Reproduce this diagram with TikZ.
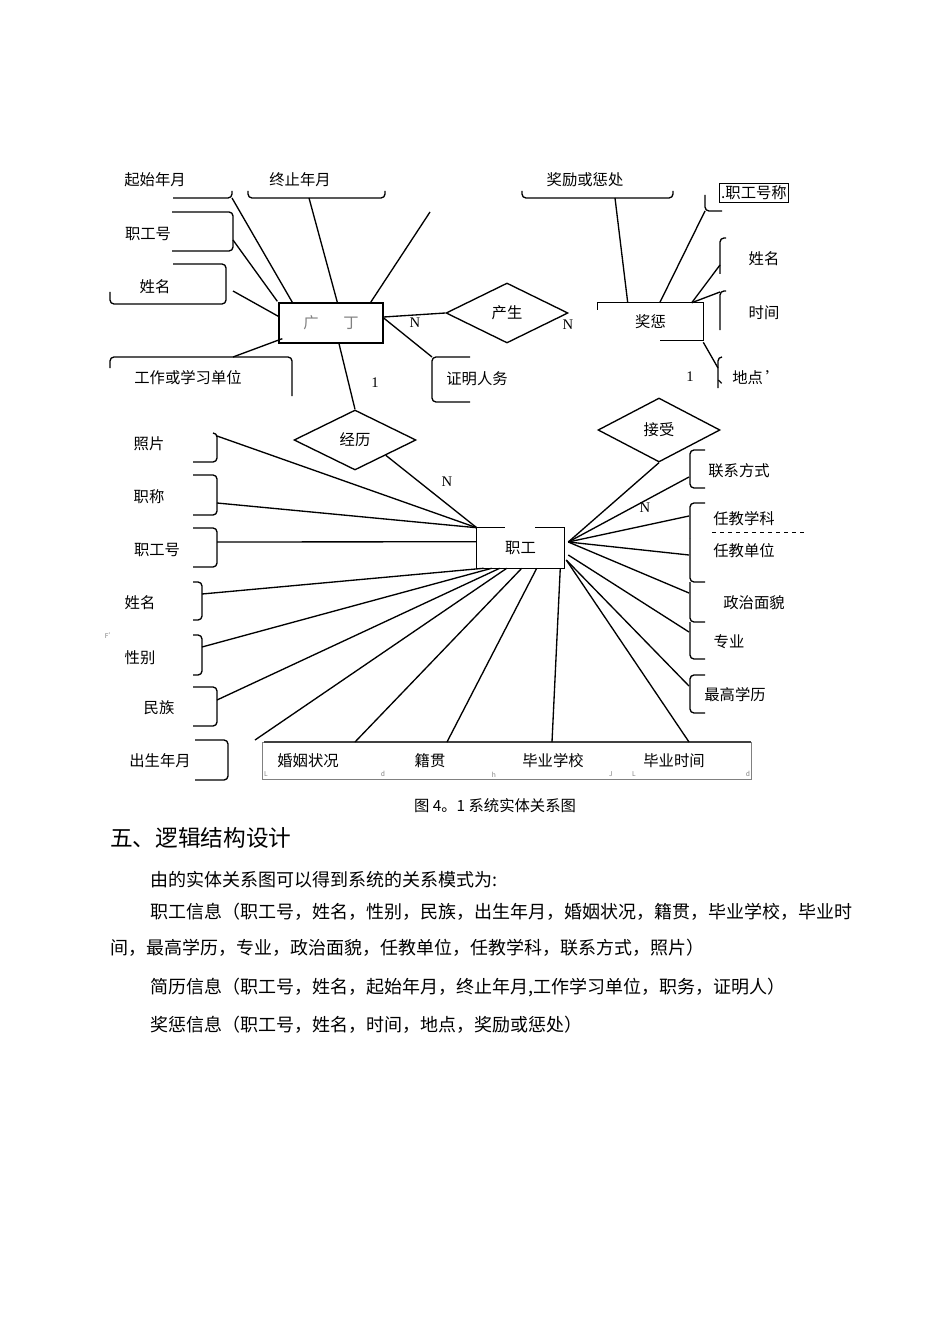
\documentclass[tikz,border=0pt]{standalone}
\usepackage{fontspec}
\setmainfont{Noto Sans CJK SC}
\newfontfamily\numfont{Liberation Serif}
\usetikzlibrary{shapes.geometric}
\newcommand{\lblsize}{\fontsize{11.5pt}{13pt}\selectfont}
\newcommand{\bodysize}{\fontsize{13.5pt}{16pt}\selectfont}

\begin{document}
\begin{tikzpicture}[x=0.75pt,y=-0.75pt,
    attr/.style={inner sep=0pt,font=\lblsize},
    ent/.style={rectangle,inner sep=0pt,font=\lblsize},
    rel/.style={diamond,draw,inner sep=0pt,line width=1pt,minimum width=91.5pt,
                minimum height=45pt,font=\lblsize},
    conn/.style={line width=1pt},
    brk/.style={line width=1pt,rounded corners=3pt},
    card/.style={inner sep=0pt,font=\numfont\fontsize{11pt}{13pt}\selectfont},
    speck/.style={inner sep=0pt,font=\fontsize{5pt}{6pt}\selectfont,text=gray},
    para/.style={anchor=west,inner sep=0pt,font=\bodysize}
]
    \fill[white] (0,0) rectangle (950,1344);
    \useasboundingbox (0,0) rectangle (950,1344);

    % entities and relationships
    \node[ent,draw,line width=1pt,minimum width=78pt,minimum height=30pt] (jianli) at (331,323)
        {\textcolor{gray}{广\hspace{1.6em}丁}};
    \node[ent,minimum width=78.75pt,minimum height=27.75pt] (jiangcheng) at (650.5,321.5) {奖惩};
    \draw[conn] (jiangcheng.north west) ++(0,7) -- (jiangcheng.north west) -- (jiangcheng.north east)
        -- (jiangcheng.south east) -- ++(-43,0);
    \node[ent,minimum width=65.25pt,minimum height=30pt] (zhigong) at (520.5,548) {职工};
    \draw[conn] (zhigong.north west) ++(28,0) -- (zhigong.north west) -- (zhigong.south west)
        -- (zhigong.south east) -- (zhigong.north east) -- ++(-29,0);
    \node[rel] (chansheng) at (507,313) {产生};
    \node[rel] (jingli) at (355,440) {经历};
    \node[rel,minimum height=48pt] (jieshou) at (659,430) {接受};

    % attributes of the resume entity
    \node[attr] (qsny) at (155,180) {起始年月};
    \draw[brk] (173,198) -- (232,198) -- (232,191);
    \coordinate (qsny-b) at (232,198);
    \node[attr] (zzny) at (300,180) {终止年月};
    \draw[brk] (248,191) -- (248,198) -- (385,198) -- (385,191);
    \coordinate (zzny-b) at (309,198);
    \node[attr] (zgh1) at (148,234) {职工号};
    \draw[brk] (172,212) -- (233,212) -- (233,251) -- (172,251);
    \coordinate (zgh1-b) at (233,240);
    \node[attr] (xm1) at (155,287) {姓名};
    \draw[brk] (173,264) -- (226,264) -- (226,304) -- (110,304) -- (110,292);
    \coordinate (xm1-b) at (233,291);
    \node[attr] (gzdw) at (188,378) {工作或学习单位};
    \draw[brk] (110,368) -- (110,357) -- (292,357) -- (292,396);
    \coordinate (gzdw-b) at (233,357);
    \node[attr] (zmr) at (477,379) {证明人务};
    \draw[brk] (470,357) -- (432,357) -- (432,402) -- (470,402);
    \coordinate (zmr-b) at (432,357);
    \coordinate (jl-free) at (430,212);

    \draw[conn] (qsny-b) -- ([shift={(14,0)}]jianli.north west);
    \draw[conn] (zzny-b) -- ([shift={(59,0)}]jianli.north west);
    \draw[conn] (zgh1-b) -- ([shift={(-1,-1)}]jianli.north west);
    \draw[conn] (xm1-b) -- ([shift={(0,14)}]jianli.north west);
    \draw[conn] (gzdw-b) -- ([shift={(4,-5)}]jianli.south west);
    \draw[conn] ([shift={(-13,0)}]jianli.north east) -- (jl-free);
    \draw[conn] ([shift={(0,-6)}]jianli.east) -- (chansheng.west);
    \draw[conn] ([shift={(0,-5)}]jianli.east) -- (zmr-b);
    \draw[conn] ([shift={(8,0)}]jianli.south) -- (jingli.north);

    % attributes of the reward entity
    \node[attr] (jlcf) at (585,180) {奖励或惩处};
    \draw[brk] (522,191) -- (522,198) -- (673,198) -- (673,191);
    \coordinate (jlcf-b) at (615,198);
    \node[attr,draw,line width=0.5pt,inner sep=1.5pt,minimum height=14pt] (zghc) at (754,193) {.职工号称};
    \draw[brk] (705,195) -- (705,211) -- (722,211);
    \coordinate (zghc-b) at (705,211);
    \node[attr] (xm2) at (764,259) {姓名};
    \draw[brk] (726,238) -- (720,238) -- (720,274);
    \coordinate (xm2-b) at (720,265);
    \node[attr] (sj) at (764,313) {时间};
    \draw[brk] (726,291) -- (720,291) -- (720,330);
    \coordinate (sj-b) at (720,292);
    \node[attr] (dd) at (749,378) {、地点\,’};
    \draw[brk] (722,357) -- (718,357) -- (718,388);
    \coordinate (dd-b) at (718,368);

    \draw[conn] (jlcf-b) -- ([shift={(30,0)}]jiangcheng.north west);
    \draw[conn] (zghc-b) -- ([shift={(62,0)}]jiangcheng.north west);
    \draw[conn] (xm2-b) -- ([shift={(94,0)}]jiangcheng.north west);
    \draw[conn] (sj-b) -- ([shift={(94,0)}]jiangcheng.north west);
    \draw[conn] ([shift={(0,2)}]jiangcheng.south east) -- (dd-b);

    % attributes of the staff entity
    \node[attr] (zp) at (149,444) {照片};
    \draw[brk] (213,433) -- (217,433) -- (217,462) -- (193,462);
    \coordinate (zp-b) at (217,436);
    \node[attr] (zc) at (149,497) {职称};
    \draw[brk] (193,475) -- (217,475) -- (217,515) -- (193,515);
    \coordinate (zc-b) at (217,503);
    \node[attr] (zgh2) at (157,550) {职工号};
    \draw[brk] (193,528) -- (217,528) -- (217,567) -- (193,567);
    \coordinate (zgh2-b) at (217,542);
    \node[attr] (xm3) at (140,603) {姓名};
    \draw[brk] (193,582) -- (202,582) -- (202,620) -- (193,620);
    \coordinate (xm3-b) at (202,594);
    \node[speck] (fmark) at (110,636) {F'};
    \node[attr] (xb) at (140,658) {性别};
    \draw[brk] (193,635) -- (202,635) -- (202,675) -- (193,675);
    \coordinate (xb-b) at (202,647);
    \node[attr] (mz) at (159,708) {民族};
    \draw[brk] (193,687) -- (217,687) -- (217,726) -- (193,726);
    \coordinate (mz-b) at (217,700);
    \node[attr] (csny) at (160,761) {出生年月};
    \draw[brk] (195,740) -- (228,740) -- (228,780) -- (195,780);
    \coordinate (csny-b) at (255,740);

    % bottom row box
    \draw[line width=0.5pt,gray] (262,742) rectangle (751,779);
    \draw[line width=1.8pt,darkgray] (264,742) -- (751,742);
    \node[attr] (hyzk) at (308,761) {婚姻状况};
    \node[attr] (jg) at (430,761) {籍贯};
    \node[attr] (byxx) at (553,761) {毕业学校};
    \node[attr] (bysj) at (674,761) {毕业时间};
    \coordinate (hyzk-b) at (355,742);
    \coordinate (jg-b) at (447,742);
    \coordinate (byxx-b) at (552,742);
    \coordinate (bysj-b) at (689,742);
    \node[speck] (m1) at (266,774) {L};
    \node[speck] (m2) at (383,774) {d};
    \node[speck] (m3) at (494,775) {h};
    \node[speck] (m4) at (611,774) {J};
    \node[speck] (m5) at (634,774) {L};
    \node[speck] (m6) at (748,774) {d};

    \node[attr] (lxfs) at (739,471) {联系方式};
    \draw[brk] (705,450) -- (690,450) -- (690,488) -- (705,488);
    \coordinate (lxfs-b) at (689,477);
    \node[attr] (rjxk) at (744,519) {任教学科};
    \draw[dashed,line width=0.5pt] (712,532) -- (805,532);
    \draw[brk] (705,503) -- (690,503) -- (690,538);
    \coordinate (rjxk-b) at (689,516);
    \node[attr] (rjdw) at (744,551) {任教单位};
    \draw[brk] (690,538) -- (690,582) -- (705,582);
    \coordinate (rjdw-b) at (689,555);
    \node[attr] (zzmm) at (754,603) {政治面貌};
    \draw[brk] (690,582) -- (690,622) -- (705,622);
    \coordinate (zzmm-b) at (689,593);
    \node[attr] (zy) at (729,642) {专业};
    \draw[brk] (690,622) -- (690,659) -- (705,659);
    \coordinate (zy-b) at (689,632);
    \node[attr] (zgxl) at (735,695) {最高学历};
    \draw[brk] (705,675) -- (690,675) -- (690,713) -- (705,713);
    \coordinate (zgxl-b) at (689,686);

    \coordinate (zg-r1) at ([shift={(4,-6)}]zhigong.east);
    \coordinate (zg-r2) at ([shift={(4,7)}]zhigong.east);
    \coordinate (zg-r3) at ([shift={(2,12)}]zhigong.east);

    \draw[conn] (zp-b) -- (zhigong.north west);
    \draw[conn] (zc-b) -- (zhigong.north west);
    \draw[conn] (jingli.south east) -- (zhigong.north west);
    \draw[conn] (zgh2-b) -- ([shift={(0,14)}]zhigong.north west);
    \draw[conn] (xm3-b) -- ([shift={(7,0)}]zhigong.south west);
    \draw[conn] (xb-b) -- ([shift={(15,0)}]zhigong.south west);
    \draw[conn] (mz-b) -- ([shift={(23,0)}]zhigong.south west);
    \draw[conn] (csny-b) -- ([shift={(30,0)}]zhigong.south west);
    \draw[conn] (hyzk-b) -- ([shift={(45,0)}]zhigong.south west);
    \draw[conn] (jg-b) -- ([shift={(60,0)}]zhigong.south west);
    \draw[conn] (byxx-b) -- ([shift={(-4,0)}]zhigong.south east);
    \draw[conn] (jieshou.south) -- (zg-r1);
    \draw[conn] (lxfs-b) -- (zg-r1);
    \draw[conn] (rjxk-b) -- (zg-r1);
    \draw[conn] (rjdw-b) -- (zg-r1);
    \draw[conn] (zzmm-b) -- (zg-r1);
    \draw[conn] (zy-b) -- (zg-r2);
    \draw[conn] (zgxl-b) -- (zg-r3);
    \draw[conn] (bysj-b) -- (zg-r3);

    % cardinalities
    \node[card] (c1) at (415,323) {N};
    \node[card] (c2) at (568,325) {N};
    \node[card] (c3) at (375,383) {1};
    \node[card] (c4) at (690,377) {1};
    \node[card] (c5) at (447,482) {N};
    \node[card] (c6) at (645,508) {N};

    % caption and text below
    \node[attr,font=\fontsize{11.5pt}{13pt}\selectfont] (cap) at (495,806) {图 4。1 系统实体关系图};
    \node[para,font=\fontsize{17pt}{20pt}\selectfont] (h5) at (110,838) {五、逻辑结构设计};
    \node[para] (p1) at (150,880) {由的实体关系图可以得到系统的关系模式为:};
    \node[para] (p2) at (150,912) {职工信息（职工号，姓名，性别，民族，出生年月，婚姻状况，籍贯，毕业学校，毕业时};
    \node[para] (p3) at (110,948) {间，最高学历，专业，政治面貌，任教单位，任教学科，联系方式，照片）};
    \node[para] (p4) at (150,987) {简历信息（职工号，姓名，起始年月，终止年月,工作学习单位，职务，证明人）};
    \node[para] (p5) at (150,1025) {奖惩信息（职工号，姓名，时间，地点，奖励或惩处）};
\end{tikzpicture}
\end{document}
